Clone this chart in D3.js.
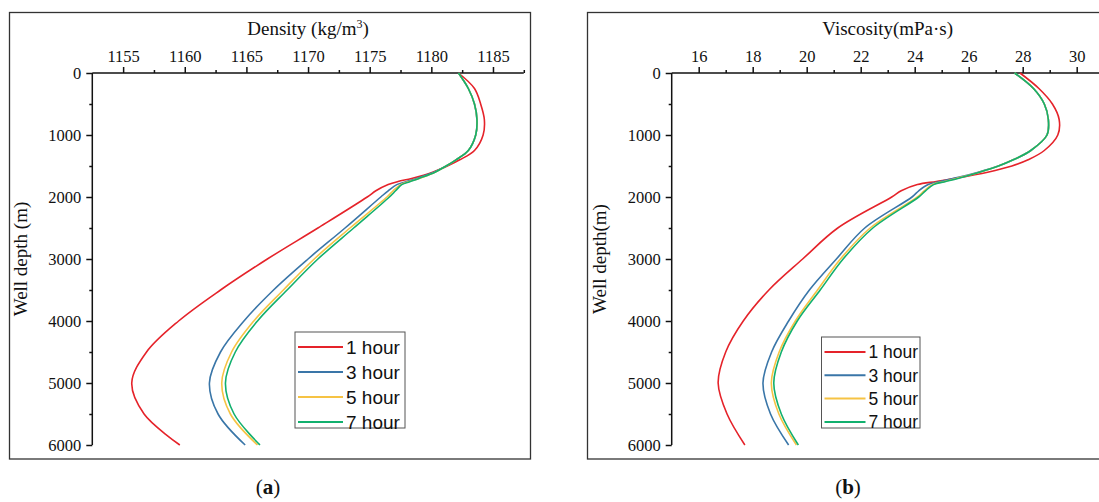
<!DOCTYPE html>
<html>
<head>
<meta charset="utf-8">
<script src="https://cdn.jsdelivr.net/npm/d3@7/dist/d3.min.js"></script>
<style>
  html, body { margin: 0; padding: 0; background: #fff; }
  svg { display: block; }
</style>
</head>
<body>
<svg id="fig" width="1099" height="502"></svg>
<script>
// Well depth samples (m), shared by all profiles
const depths = [0, 250, 500, 750, 1000, 1250, 1400, 1500, 1600, 1700, 1750, 1800, 1900, 2000, 2500, 3000, 3500, 4000, 4500, 5000, 5500, 6000];

// Density profiles (kg/m3) after 1, 3, 5 and 7 hours
const density1h = [1182.2, 1183.5, 1184.0, 1184.3, 1184.2, 1183.5, 1182.3, 1181.3, 1180.1, 1178.4, 1177.3, 1176.5, 1175.5, 1174.8, 1170.8, 1166.7, 1162.9, 1159.5, 1156.9, 1155.7, 1156.7, 1159.6];
const density3h = [1182.2, 1183.0, 1183.5, 1183.7, 1183.6, 1183.0, 1182.0, 1181.2, 1180.2, 1178.8, 1178.0, 1177.2, 1176.5, 1175.9, 1173.0, 1170.0, 1167.2, 1164.8, 1162.9, 1162.0, 1162.7, 1164.9];
const density5h = [1182.2, 1183.0, 1183.5, 1183.7, 1183.6, 1183.0, 1182.0, 1181.2, 1180.3, 1179.0, 1178.2, 1177.5, 1176.9, 1176.4, 1173.4, 1170.5, 1168.0, 1165.6, 1163.8, 1163.0, 1163.7, 1165.9];
const density7h = [1182.2, 1183.0, 1183.5, 1183.7, 1183.6, 1183.0, 1182.0, 1181.2, 1180.3, 1179.0, 1178.3, 1177.6, 1177.1, 1176.6, 1173.7, 1170.8, 1168.3, 1165.9, 1164.1, 1163.3, 1164.0, 1166.1];

// Viscosity profiles (mPa·s) after 1, 3, 5 and 7 hours
const viscosity1h = [27.9, 28.6, 29.1, 29.35, 29.3, 28.8, 28.2, 27.6, 26.7, 25.5, 24.8, 24.1, 23.5, 23.15, 21.15, 19.85, 18.6, 17.65, 17.0, 16.72, 17.05, 17.71];
const viscosity3h = [27.7, 28.4, 28.8, 28.95, 28.9, 28.3, 27.65, 27.1, 26.35, 25.45, 24.95, 24.5, 24.15, 23.9, 22.15, 21.1, 20.1, 19.33, 18.7, 18.38, 18.66, 19.33];
const viscosity5h = [27.7, 28.4, 28.8, 28.95, 28.9, 28.3, 27.65, 27.1, 26.4, 25.55, 25.1, 24.65, 24.35, 24.1, 22.35, 21.25, 20.4, 19.58, 18.98, 18.69, 18.97, 19.62];
const viscosity7h = [27.7, 28.4, 28.8, 28.95, 28.9, 28.3, 27.65, 27.1, 26.4, 25.6, 25.15, 24.7, 24.4, 24.15, 22.45, 21.35, 20.5, 19.65, 19.06, 18.78, 19.06, 19.69];

const seriesNames = ["1 hour", "3 hour", "5 hour", "7 hour"];
const seriesColors = ["#e5232a", "#3a76a8", "#f6c344", "#12b06e"];

// Axis ticks
const depthTicks = [0, 1000, 2000, 3000, 4000, 5000, 6000];
const depthMinorTicks = [500, 1500, 2500, 3500, 4500, 5500];
const densityTicks = [1155, 1160, 1165, 1170, 1175, 1180, 1185];
const densityMinorTicks = [1157.5, 1162.5, 1167.5, 1172.5, 1177.5, 1182.5, 1187.5];
const viscosityTicks = [16, 18, 20, 22, 24, 26, 28, 30];
const viscosityMinorTicks = [17, 19, 21, 23, 25, 27, 29, 31];

const svg = d3.select("#fig");
const SERIF = "'Liberation Serif', 'Times New Roman', serif";
const SANS = "'Liberation Sans', Arial, sans-serif";

function drawPanel(p) {
  const g = svg.append("g");

  // outer frame of the sub-figure
  g.append("rect")
    .attr("x", p.frame[0]).attr("y", p.frame[1])
    .attr("width", p.frame[2]).attr("height", p.frame[3])
    .attr("fill", "none").attr("stroke", "#333").attr("stroke-width", 1.3);

  const x = d3.scaleLinear().domain(p.xDomain).range([p.left, p.right]);
  const y = d3.scaleLinear().domain([0, 6000]).range([p.top, p.bottom]);

  // top value axis
  const xAxis = g.append("g").attr("transform", `translate(0,${p.top})`)
    .call(d3.axisTop(x).tickValues(p.xTicks).tickSize(6).tickPadding(5).tickFormat(d3.format("d")));
  xAxis.select(".domain").attr("d", `M${p.left},0H${p.right}`);
  g.append("g").attr("transform", `translate(0,${p.top})`)
    .call(d3.axisTop(x).tickValues(p.xMinor).tickSize(3).tickFormat(""))
    .select(".domain").remove();

  // left depth axis
  const yAxis = g.append("g").attr("transform", `translate(${p.left},0)`)
    .call(d3.axisLeft(y).tickValues(depthTicks).tickSize(6).tickPadding(5).tickFormat(d3.format("d")));
  yAxis.select(".domain").attr("d", `M0,${p.top}V${p.bottom}`);
  g.append("g").attr("transform", `translate(${p.left},0)`)
    .call(d3.axisLeft(y).tickValues(depthMinorTicks).tickSize(3).tickFormat(""))
    .select(".domain").remove();

  g.selectAll(".domain, .tick line").attr("stroke", "#111").attr("stroke-width", 1.5);
  g.selectAll("g[font-family]").attr("font-family", null);
  g.selectAll(".tick text")
    .style("font-family", SERIF).style("font-size", "16.5px").attr("fill", "#111");

  // axis titles
  p.xTitle(g.append("text")
    .attr("x", (p.left + p.right) / 2).attr("y", 35)
    .attr("text-anchor", "middle").style("font-family", SERIF).style("font-size", "19px").attr("fill", "#111"));
  g.append("text")
    .attr("transform", `translate(${p.yTitleX},${(p.top + p.bottom) / 2}) rotate(-90)`)
    .attr("text-anchor", "middle").style("font-family", SERIF).style("font-size", "19px").attr("fill", "#111")
    .text(p.yTitle);

  // profiles
  const clipId = "clip-" + p.id;
  g.append("clipPath").attr("id", clipId).append("rect")
    .attr("x", p.frame[0]).attr("y", p.frame[1]).attr("width", p.frame[2]).attr("height", p.frame[3]);
  const line = d3.line()
    .x(d => x(d))
    .y((d, i) => y(depths[i]))
    .curve(d3.curveCatmullRom.alpha(0.5));
  p.series.forEach((vals, k) => {
    g.append("path")
      .datum(vals)
      .attr("d", line)
      .attr("fill", "none")
      .attr("stroke", seriesColors[k])
      .attr("stroke-width", 1.6)
      .attr("clip-path", `url(#${clipId})`);
  });

  // legend
  const L = p.legend;
  const lg = g.append("g");
  lg.append("rect").attr("x", L.x).attr("y", L.y).attr("width", L.w).attr("height", L.h)
    .attr("fill", "#fff").attr("stroke", "#555").attr("stroke-width", 1);
  seriesNames.forEach((name, k) => {
    const cy = L.y + L.first + k * L.step;
    lg.append("line").attr("x1", L.x + 3).attr("x2", L.x + 3 + L.len)
      .attr("y1", cy).attr("y2", cy)
      .attr("stroke", seriesColors[k]).attr("stroke-width", 2);
    lg.append("text").attr("x", L.x + L.len + 6).attr("y", cy)
      .attr("dy", "0.36em").style("font-family", SANS).style("font-size", L.fs + "px").attr("fill", "#111")
      .text(name);
  });

  // caption
  const cap = g.append("text").attr("x", p.capX).attr("y", 494)
    .attr("text-anchor", "middle").style("font-family", SERIF).style("font-size", "21px").attr("fill", "#111");
  cap.append("tspan").text("(");
  cap.append("tspan").attr("font-weight", "bold").text(p.caption);
  cap.append("tspan").text(")");
}

drawPanel({
  id: "a",
  frame: [9.5, 12.5, 521, 446.5],
  left: 92.3, right: 523.8, top: 73, bottom: 445,
  xDomain: [1152.5, 1187.5],
  xTicks: densityTicks, xMinor: densityMinorTicks,
  xTitle: t => { t.append("tspan").text("Density (kg/m");
                 t.append("tspan").style("font-size", "12px").attr("dy", -7).text("3");
                 t.append("tspan").attr("dy", 7).text(")"); },
  yTitle: "Well depth (m)", yTitleX: 27,
  series: [density1h, density3h, density5h, density7h],
  legend: { x: 295, y: 332, w: 110, h: 96, first: 15, step: 25, len: 45, fs: 19 },
  caption: "a", capX: 268
});

drawPanel({
  id: "b",
  frame: [587.5, 12.5, 530, 446.5],
  left: 671.7, right: 1103.7, top: 73, bottom: 445,
  xDomain: [15, 31],
  xTicks: viscosityTicks, xMinor: viscosityMinorTicks,
  xTitle: t => t.text("Viscosity(mPa·s)"),
  yTitle: "Well depth(m)", yTitleX: 606,
  series: [viscosity1h, viscosity3h, viscosity5h, viscosity7h],
  legend: { x: 821.5, y: 337, w: 98.5, h: 91, first: 15, step: 23.3, len: 41, fs: 17.5 },
  caption: "b", capX: 848
});
</script>
</body>
</html>
